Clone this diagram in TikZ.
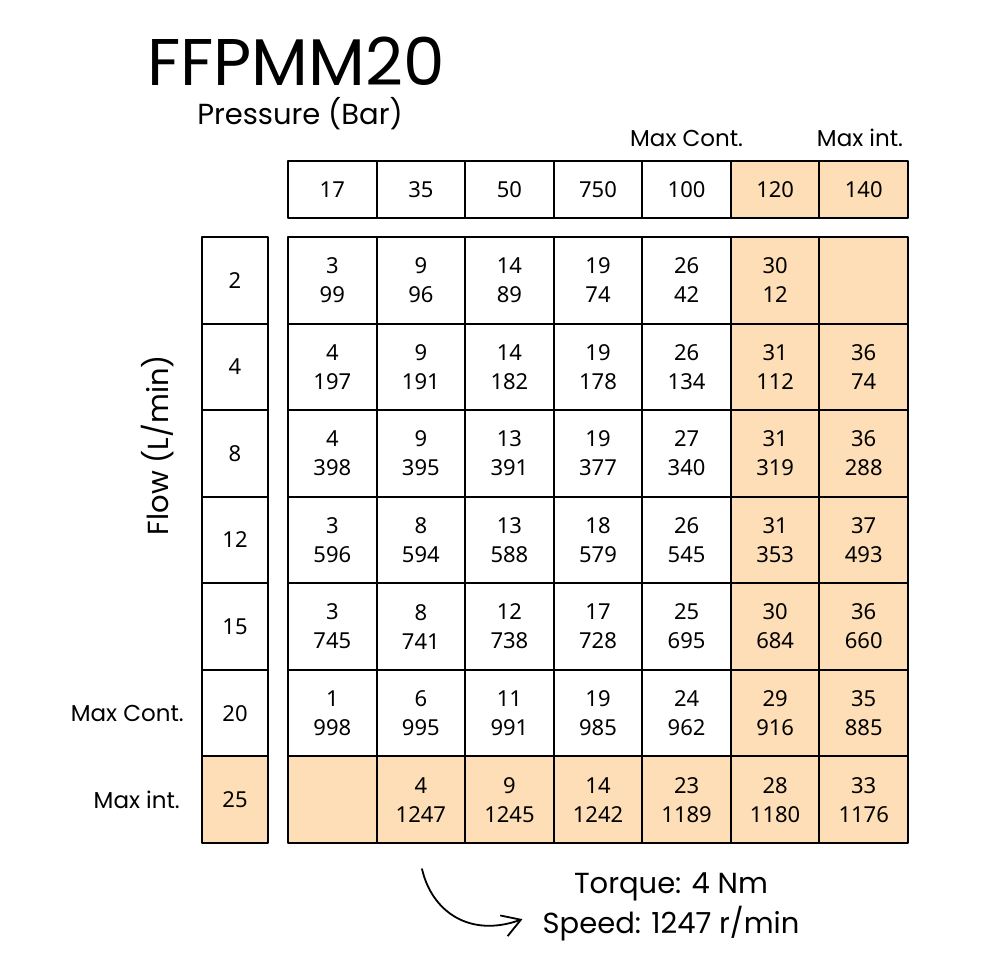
\documentclass[tikz,border=0pt]{standalone}
\usepackage{fontspec}
\setmainfont{Poppins}
\newfontfamily\numfont{Noto Sans}
\usetikzlibrary{arrows.meta}
\definecolor{peach}{RGB}{253,222,182}
\tikzset{
  cell/.style={draw, line width=2pt, minimum width=88.6pt, minimum height=86.6pt, inner sep=0pt, outer sep=0pt, align=center, font=\numfont\fontsize{22}{29}\selectfont},
  headcell/.style={cell, minimum height=57pt},
  flowcell/.style={cell, minimum width=66pt},
  sidetext/.style={font=\fontsize{23}{28}\selectfont, inner sep=0pt},
  bigtext/.style={font=\fontsize{29}{40}\selectfont, inner sep=0pt}
}
\begin{document}
\begin{tikzpicture}[x=1pt, y=-1pt, line join=round, line cap=round]
	\useasboundingbox (0,0) rectangle (980,980);
	% headings
	\node[anchor=base west, font=\fontsize{66}{70}\selectfont, inner sep=0pt] (title) at (147,85) {FFPMM20};
	\node[bigtext, anchor=base] (pressure) at (300,124) {Pressure (Bar)};
	\node[sidetext, anchor=base] (contP) at (686.6,146) {Max Cont.};
	\node[sidetext, anchor=base] (intP) at (860,146) {Max int.};
	% pressure row
	\foreach \v/\f [count=\i from 0] in {17/white,35/white,50/white,750/white,100/white,120/peach,140/peach}
		\node[headcell, fill=\f] (p-\i) at ({332.3+88.57*\i},189.5) {\v};
	% flow column
	\foreach \v/\f [count=\j from 0] in {2/white,4/white,8/white,12/white,15/white,20/white,25/peach}
		\node[flowcell, fill=\f] (q-\j) at (235,{280.3+86.57*\j}) {\v};
	\node[bigtext, rotate=90] (flow) at (158,445) {Flow (L/min)};
	\node[sidetext, anchor=east] (contQ) at (184,713) {Max Cont.};
	\node[sidetext, anchor=east] (intQ) at (180,800) {Max int.};
	% torque / speed cells
	\foreach \t/\b [count=\k from 0] in {
		3/99,9/96,14/89,19/74,26/42,30/12,/,
		4/197,9/191,14/182,19/178,26/134,31/112,36/74,
		4/398,9/395,13/391,19/377,27/340,31/319,36/288,
		3/596,8/594,13/588,18/579,26/545,31/353,37/493,
		3/745,8/741,12/738,17/728,25/695,30/684,36/660,
		1/998,6/995,11/991,19/985,24/962,29/916,35/885,
		/,4/1247,9/1245,14/1242,23/1189,28/1180,33/1176}{
		\pgfmathtruncatemacro\rr{\k/7}
		\pgfmathtruncatemacro\cc{\k-7*\rr}
		\def\cellfill{white}
		\ifnum\cc>4 \def\cellfill{peach}\fi
		\ifnum\rr>5 \def\cellfill{peach}\fi
		\node[cell, fill=\cellfill] (c-\rr-\cc) at ({332.3+88.57*\cc},{280.3+86.57*\rr}) {\t\\\b};
	}
	% example reading
	\node[bigtext, anchor=base] (torque) at (671,893) {Torque: 4 Nm};
	\node[bigtext, anchor=base] (speed) at (671,933) {Speed: 1247 r/min};
	\coordinate (start) at (422,869);
	\draw[line width=1.8pt, -{Straight Barb[length=18pt,width=22pt]}] (start) .. controls (432,912) and (470,938) .. ([xshift=-20pt,yshift=4pt]speed.west);
\end{tikzpicture}
\end{document}
